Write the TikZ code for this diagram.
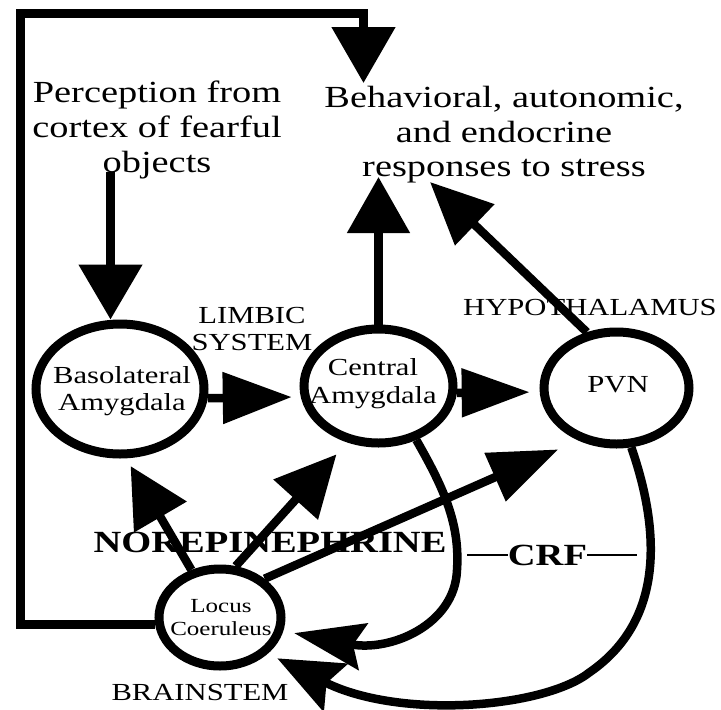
\documentclass[tikz,border=0pt]{standalone}
\usepackage{fontspec}
\setmainfont{Liberation Serif}[FakeStretch=1.25]
\usetikzlibrary{arrows.meta,shapes.geometric}
\begin{document}
\begin{tikzpicture}[x=1pt,y=-1pt,
  ell/.style={draw, ellipse, line width=9pt, inner sep=0pt},
  conn/.style={line width=8.5pt},
  thinln/.style={line width=2.5pt},
  big/.style={font=\fontsize{30.7}{35}\selectfont, inner sep=0pt, anchor=base},
  mid/.style={font=\fontsize{24.5}{28}\selectfont, inner sep=0pt, anchor=base},
  sml/.style={font=\fontsize{20}{23}\selectfont, inner sep=0pt, anchor=base},
  bld/.style={font=\bfseries\fontsize{30.8}{35}\selectfont, inner sep=0pt, anchor=base}]
\useasboundingbox (0,0) rectangle (721,710);

% texts
\node[big] (perc1) at (157,102) {Perception from};
\node[big] (perc2) at (157,137) {cortex of fearful};
\node[big] (perc3) at (157,172) {objects};
\node[big] (resp1) at (504,107) {Behavioral, autonomic,};
\node[big] (resp2) at (504,142) {and endocrine};
\node[big] (resp3) at (504,176) {responses to stress};
\node[mid] (limb1) at (252,323) {LIMBIC};
\node[mid] (limb2) at (252,350) {SYSTEM};
\node[mid] (hyp) at (590,315) {HYPOTHALAMUS};
\node[mid] (brain) at (200,700) {BRAINSTEM};
\node[bld] (ne) at (270,552) {NOREPINEPHRINE};
\node[bld] (crf) at (547.5,565) {CRF};

% ellipses
\node[ell, minimum width=168pt, minimum height=130pt] (bla) at (120,389) {};
\node[ell, minimum width=149pt, minimum height=114pt] (cea) at (378.5,386) {};
\node[ell, minimum width=145pt, minimum height=112pt] (pvn) at (616.5,388) {};
\node[ell, minimum width=122pt, minimum height=97pt] (lc) at (220,617.5) {};

\node[mid] (blat1) at (122,383) {Basolateral};
\node[mid] (blat2) at (122,410) {Amygdala};
\node[mid] (ceat1) at (373,375) {Central};
\node[mid] (ceat2) at (373,403) {Amygdala};
\node[mid] (pvnt) at (618,392) {PVN};
\node[sml] (lct1) at (221,612) {Locus};
\node[sml] (lct2) at (221,635) {Coeruleus};

% coordinates for free ends
\coordinate (cornerTL) at (20.5,13.5);
\coordinate (toptip) at (363.5,83);
\coordinate (rt1) at (378.5,177);
\coordinate (rt2) at (430,182);
\coordinate (crfL) at (467,555);
\coordinate (crfR) at (637,555);

% connectors
\draw[conn, -{Triangle[length=55pt,width=62pt]}] (perc3.base -| 110.5,0) -- (bla.north -| 110.5,0);
\draw[conn, line join=miter, -{Triangle[length=56pt,width=62pt]}] (lc.186) -| (cornerTL) -| (toptip);
\draw[conn, -{Triangle[length=56pt,width=61pt]}] (cea.north) -- (rt1);
\draw[conn, -{Triangle[length=62pt,width=55pt]}] (pvn.118) -- (rt2);
\draw[conn, -{Triangle[length=69pt,width=50pt]}, shorten >=9pt] (bla.-6) -- (cea.188);
\draw[conn, -{Triangle[length=68pt,width=47pt]}, shorten >=10pt] (cea.-5) -- (pvn.183);
\draw[conn, -{Triangle[length=59pt,width=59pt]}, shorten >=9pt] (lc.121) -- (bla.275);
\draw[conn, -{Triangle[length=61pt,width=58pt]}, shorten >=16pt] (lc.73) -- (cea.241);
\draw[conn, -{Triangle[length=69pt,width=51pt]}, shorten >=22pt] (lc.41) -- (pvn.234);
\draw[conn, -{Stealth[length=70pt,width=47pt,inset=10pt]}, shorten >=11pt]
  (cea.-55) .. controls (445,490) and (460,525) .. (457,570)
  .. controls (455,625) and (390,652) .. (lc.-12);
\draw[conn, -{Stealth[length=65pt,width=53pt,inset=10pt]}, shorten >=10.5pt]
  (pvn.-76) .. controls (660,530) and (665,620) .. (590,672)
  .. controls (545,708) and (400,720) .. (lc.-37);

\draw[thinln] (crfL) -- (crfL -| crf.west);
\draw[thinln] (crf.east |- crfR) -- (crfR);
\end{tikzpicture}
\end{document}
